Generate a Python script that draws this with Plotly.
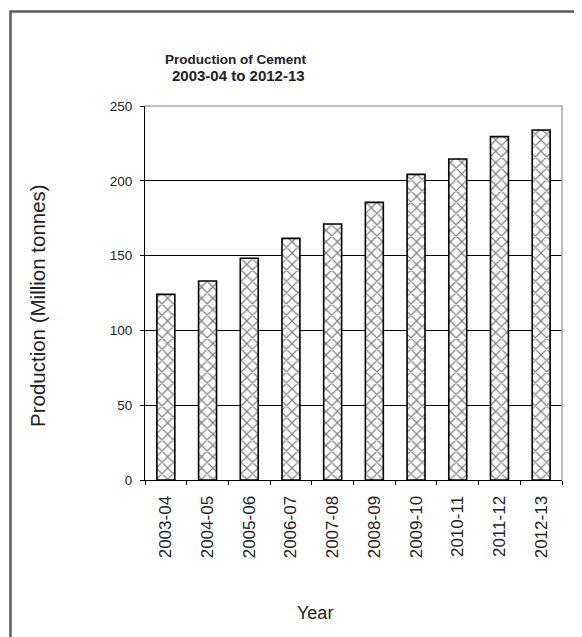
import plotly.graph_objects as go

years = ["2003-04", "2004-05", "2005-06", "2006-07", "2007-08",
         "2008-09", "2009-10", "2010-11", "2011-12", "2012-13"]
production = [124.1, 133.0, 148.2, 161.5, 171.1, 185.6, 204.3, 214.6, 229.5, 234.0]
y_ticks = [0, 50, 100, 150, 200, 250]

OFF = 8  # page body margin in the browser
W, H = 582 - OFF, 637 - OFF
# plot area in screen pixels: x 145..562, y 106..480
L, R, T, B = 145 - OFF, 582 - 562, 106 - OFF, 637 - 480
pw, ph = W - L - R, H - T - B

def px(x):
    return (x - OFF - L) / pw

def py(y):
    return (H - B - (y - OFF)) / ph

FONT = "Liberation Sans, Arial, sans-serif"

fig = go.Figure(go.Bar(
    x=years, y=production,
    marker=dict(
        color="white",
        line=dict(color="black", width=1.6),
        pattern=dict(shape="x", fgcolor="black", bgcolor="white", size=8, solidity=0.28),
    ),
    showlegend=False,
))

fig.update_layout(
    width=W, height=H,
    margin=dict(l=L, r=R, t=T, b=B, autoexpand=False),
    paper_bgcolor="white", plot_bgcolor="white",
    bargap=0.57,
    font=dict(family=FONT, color="#222"),
    xaxis=dict(
        type="category",
        showgrid=False, showline=True, linecolor="black", linewidth=1.2,
        ticks="outside", tickson="boundaries", ticklen=4, tickcolor="black",
        tickangle=-90, tickfont=dict(size=17, color="#222"),
        ticklabelstandoff=8, mirror=False,
    ),
    yaxis=dict(
        range=[0, 250], tickvals=y_ticks,
        showgrid=True, gridcolor="black", gridwidth=1,
        showline=True, linecolor="black", linewidth=1.2,
        ticks="outside", ticklen=4, tickcolor="black",
        tickfont=dict(size=13.5, color="#222"), ticklabelstandoff=5,
        zeroline=False,
    ),
    shapes=[
        # outer chart border (left and top)
        dict(type="path", xref="paper", yref="paper",
             path=f"M {px(10.5)} {py(640)} L {px(10.5)} {py(11.5)} L {px(585)} {py(11.5)}",
             line=dict(color="#5a5a5a", width=2.5)),
        # plot-area border (top and right)
        dict(type="path", xref="paper", yref="paper",
             path="M 0 1 L 1 1 L 1 0",
             line=dict(color="#a8a8a8", width=1.5)),
    ],
    annotations=[
        dict(text="<b>Production of Cement</b>", x=px(236), y=py(60), xref="paper", yref="paper",
             showarrow=False, font=dict(size=13.5, color="#222"), xanchor="center", yanchor="middle"),
        dict(text="<b>2003-04 to 2012-13</b>", x=px(238), y=py(76), xref="paper", yref="paper",
             showarrow=False, font=dict(size=15, color="#222"), xanchor="center", yanchor="middle"),
        dict(text="Production (Million tonnes)", x=px(37), y=py(306), xref="paper", yref="paper",
             showarrow=False, textangle=-90, font=dict(size=20.5, color="#222"),
             xanchor="center", yanchor="middle"),
        dict(text="Year", x=px(315), y=py(613), xref="paper", yref="paper",
             showarrow=False, font=dict(size=18, color="#222"), xanchor="center", yanchor="middle"),
    ],
)

fig.write_html("out.html")
